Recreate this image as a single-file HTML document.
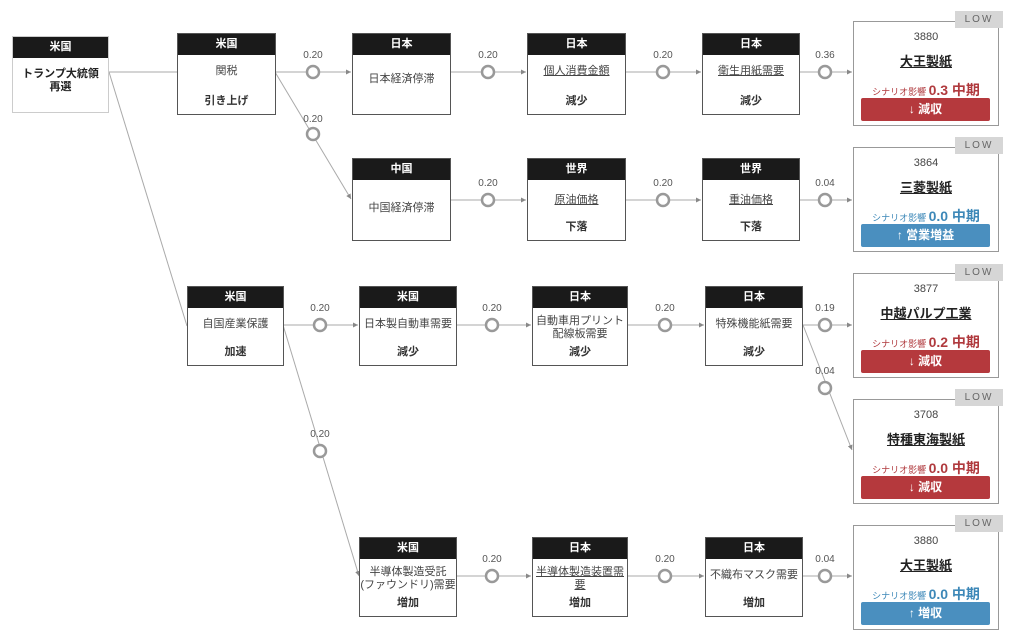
<!DOCTYPE html>
<html><head><meta charset="utf-8"><style>
body{margin:0;width:1014px;height:643px;background:#fff;position:relative;overflow:hidden;font-family:"Liberation Sans","Noto Sans CJK JP",sans-serif;}
.n{position:absolute;border:1px solid #555;background:#fff;box-sizing:border-box;text-align:center;font-size:11px;color:#444;}
.n .h{background:#1a1a1a;color:#fff;font-weight:bold;font-size:11px;height:21px;line-height:21px;}
.n .t{margin-top:10px;line-height:13px;}
.n .b{position:absolute;left:0;right:0;bottom:6px;font-weight:bold;color:#333;}
.u{text-decoration:underline;}
.c{position:absolute;border:1px solid #999;background:#fff;box-sizing:border-box;text-align:center;width:146px;height:105px;left:853px;}
.c .code{font-size:11px;color:#444;margin-top:9px;}
.c .nm{font-size:13px;font-weight:bold;text-decoration:underline;color:#222;margin-top:8px;}
.c .sc{font-size:9px;margin-top:10px;}
.c .sc b{font-size:14px;}
.c .btn{position:absolute;left:7px;right:8px;bottom:4px;height:23px;line-height:23px;color:#fff;font-weight:bold;font-size:12px;border-radius:2px;}
.red{color:#b03a3e}.blue{color:#3d88b8}
.rb{background:#b5393d}.bb{background:#4a8fbf}
.low{position:absolute;width:48px;height:17px;background:#d6d6d6;color:#666;font-size:10px;letter-spacing:2px;text-align:center;line-height:17px;left:955px;}
.lb{position:absolute;font-size:10px;color:#555;width:40px;text-align:center;}
</style></head><body>
<svg width="1014" height="643" style="position:absolute;left:0;top:0">
<defs><marker id="a" markerWidth="6" markerHeight="6" refX="5" refY="3" orient="auto"><path d="M0,0.5L5,3L0,5.5z" fill="#888"/></marker></defs>
<g stroke="#aaa" stroke-width="1" fill="none">
<line x1="109" y1="72" x2="177" y2="72"/>
<line x1="109" y1="72" x2="187" y2="326"/>
<line x1="275" y1="72" x2="351" y2="72" marker-end="url(#a)"/>
<line x1="451" y1="72" x2="526" y2="72" marker-end="url(#a)"/>
<line x1="626" y1="72" x2="701" y2="72" marker-end="url(#a)"/>
<line x1="800" y1="72" x2="852" y2="72" marker-end="url(#a)"/>
<line x1="275" y1="72" x2="351" y2="199" marker-end="url(#a)"/>
<line x1="451" y1="200" x2="526" y2="200" marker-end="url(#a)"/>
<line x1="626" y1="200" x2="701" y2="200" marker-end="url(#a)"/>
<line x1="800" y1="200" x2="852" y2="200" marker-end="url(#a)"/>
<line x1="283" y1="325" x2="358" y2="325" marker-end="url(#a)"/>
<line x1="456" y1="325" x2="531" y2="325" marker-end="url(#a)"/>
<line x1="627" y1="325" x2="704" y2="325" marker-end="url(#a)"/>
<line x1="803" y1="325" x2="852" y2="325" marker-end="url(#a)"/>
<line x1="803" y1="325" x2="852" y2="450" marker-end="url(#a)"/>
<line x1="283" y1="325" x2="359" y2="576" marker-end="url(#a)"/>
<line x1="456" y1="576" x2="531" y2="576" marker-end="url(#a)"/>
<line x1="627" y1="576" x2="704" y2="576" marker-end="url(#a)"/>
<line x1="803" y1="576" x2="852" y2="576" marker-end="url(#a)"/>
</g>
<g fill="#fff" stroke="#999" stroke-width="2.5">
<circle cx="313" cy="72" r="6"/><circle cx="488" cy="72" r="6"/><circle cx="663" cy="72" r="6"/><circle cx="825" cy="72" r="6"/>
<circle cx="313" cy="134" r="6"/>
<circle cx="488" cy="200" r="6"/><circle cx="663" cy="200" r="6"/><circle cx="825" cy="200" r="6"/>
<circle cx="320" cy="325" r="6"/><circle cx="492" cy="325" r="6"/><circle cx="665" cy="325" r="6"/><circle cx="825" cy="325" r="6"/>
<circle cx="825" cy="388" r="6"/>
<circle cx="320" cy="451" r="6"/>
<circle cx="492" cy="576" r="6"/><circle cx="665" cy="576" r="6"/><circle cx="825" cy="576" r="6"/>
</g>
</svg>
<div class="lb" style="left:293px;top:50px">0.20</div><div class="lb" style="left:468px;top:50px">0.20</div><div class="lb" style="left:643px;top:50px">0.20</div><div class="lb" style="left:805px;top:50px">0.36</div>
<div class="lb" style="left:293px;top:114px">0.20</div>
<div class="lb" style="left:468px;top:178px">0.20</div><div class="lb" style="left:643px;top:178px">0.20</div><div class="lb" style="left:805px;top:178px">0.04</div>
<div class="lb" style="left:300px;top:303px">0.20</div><div class="lb" style="left:472px;top:303px">0.20</div><div class="lb" style="left:645px;top:303px">0.20</div><div class="lb" style="left:805px;top:303px">0.19</div>
<div class="lb" style="left:805px;top:366px">0.04</div>
<div class="lb" style="left:300px;top:429px">0.20</div>
<div class="lb" style="left:472px;top:554px">0.20</div><div class="lb" style="left:645px;top:554px">0.20</div><div class="lb" style="left:805px;top:554px">0.04</div>

<div class="n" style="left:12px;top:36px;width:97px;height:77px;border-color:#ccc"><div class="h">米国</div><div class="t" style="font-weight:bold;color:#222">トランプ大統領<br>再選</div></div>

<div class="n" style="left:177px;top:33px;width:99px;height:82px"><div class="h">米国</div><div class="t">関税</div><div class="b">引き上げ</div></div>
<div class="n" style="left:352px;top:33px;width:99px;height:82px"><div class="h">日本</div><div class="t" style="margin-top:18px">日本経済停滞</div></div>
<div class="n" style="left:527px;top:33px;width:99px;height:82px"><div class="h">日本</div><div class="t u">個人消費金額</div><div class="b">減少</div></div>
<div class="n" style="left:702px;top:33px;width:98px;height:82px"><div class="h">日本</div><div class="t u">衛生用紙需要</div><div class="b">減少</div></div>

<div class="n" style="left:352px;top:158px;width:99px;height:83px"><div class="h">中国</div><div class="t" style="margin-top:22px">中国経済停滞</div></div>
<div class="n" style="left:527px;top:158px;width:99px;height:83px"><div class="h">世界</div><div class="t u" style="margin-top:14px">原油価格</div><div class="b">下落</div></div>
<div class="n" style="left:702px;top:158px;width:98px;height:83px"><div class="h">世界</div><div class="t u" style="margin-top:14px">重油価格</div><div class="b">下落</div></div>

<div class="n" style="left:187px;top:286px;width:97px;height:80px"><div class="h">米国</div><div class="t">自国産業保護</div><div class="b">加速</div></div>
<div class="n" style="left:359px;top:286px;width:98px;height:80px"><div class="h">米国</div><div class="t">日本製自動車需要</div><div class="b">減少</div></div>
<div class="n" style="left:532px;top:286px;width:96px;height:80px"><div class="h">日本</div><div class="t" style="margin-top:7px">自動車用プリント<br>配線板需要</div><div class="b">減少</div></div>
<div class="n" style="left:705px;top:286px;width:98px;height:80px"><div class="h">日本</div><div class="t">特殊機能紙需要</div><div class="b">減少</div></div>

<div class="n" style="left:359px;top:537px;width:98px;height:80px"><div class="h">米国</div><div class="t" style="margin-top:7px">半導体製造受託<br>(ファウンドリ)需要</div><div class="b">増加</div></div>
<div class="n" style="left:532px;top:537px;width:96px;height:80px"><div class="h">日本</div><div class="t u" style="margin-top:7px">半導体製造装置需<br>要</div><div class="b">増加</div></div>
<div class="n" style="left:705px;top:537px;width:98px;height:80px"><div class="h">日本</div><div class="t">不織布マスク需要</div><div class="b">増加</div></div>

<div class="c" style="top:21px"><div class="code">3880</div><div class="nm">大王製紙</div><div class="sc red">シナリオ影響 <b>0.3 中期</b></div><div class="btn rb">↓ 減収</div></div>
<div class="low" style="top:11px">LOW</div>
<div class="c" style="top:147px"><div class="code">3864</div><div class="nm">三菱製紙</div><div class="sc blue">シナリオ影響 <b>0.0 中期</b></div><div class="btn bb">↑ 営業増益</div></div>
<div class="low" style="top:137px">LOW</div>
<div class="c" style="top:273px"><div class="code">3877</div><div class="nm">中越パルプ工業</div><div class="sc red">シナリオ影響 <b>0.2 中期</b></div><div class="btn rb">↓ 減収</div></div>
<div class="low" style="top:264px">LOW</div>
<div class="c" style="top:399px"><div class="code">3708</div><div class="nm">特種東海製紙</div><div class="sc red">シナリオ影響 <b>0.0 中期</b></div><div class="btn rb">↓ 減収</div></div>
<div class="low" style="top:389px">LOW</div>
<div class="c" style="top:525px"><div class="code">3880</div><div class="nm">大王製紙</div><div class="sc blue">シナリオ影響 <b>0.0 中期</b></div><div class="btn bb">↑ 増収</div></div>
<div class="low" style="top:515px">LOW</div>
</body></html>
